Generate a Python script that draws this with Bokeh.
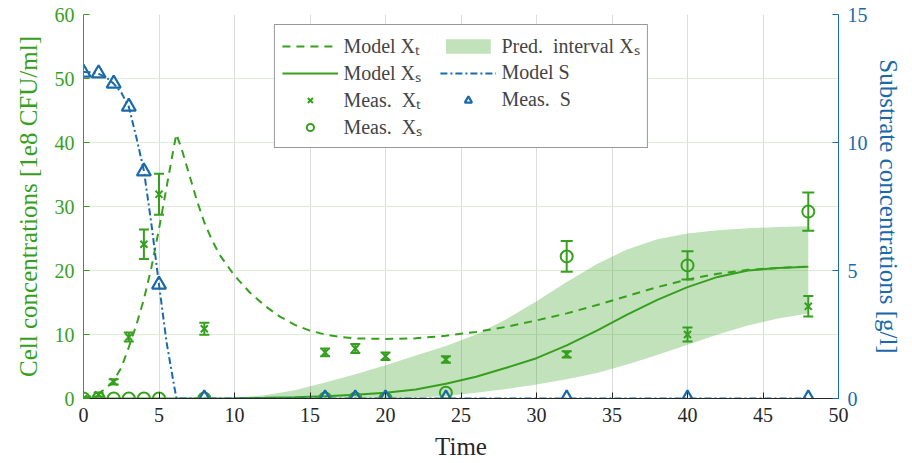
from bokeh.plotting import figure
from bokeh.models import (Range1d, LinearAxis, FixedTicker, Whisker, TeeHead,
                          ColumnDataSource, Legend, LegendItem)
from bokeh.embed import file_html
from bokeh.resources import INLINE

GREEN = "#36a01e"
BLUE = "#1a6aaa"
FONT = "Liberation Serif"

# ---------------- data ----------------
x_ticks = [0, 5, 10, 15, 20, 25, 30, 35, 40, 45, 50]
left_ticks = [0, 10, 20, 30, 40, 50, 60]
right_ticks = [0, 5, 10, 15]

meas_t = [0, 1, 2, 3, 4, 5, 8, 16, 18, 20, 24, 32, 40, 48]
xt_meas = [0.0, 0.6, 2.6, 9.6, 24.1, 31.9, 10.9, 7.2, 7.8, 6.6, 6.1, 6.9, 10.0, 14.4]
xt_err = [0.2, 0.3, 0.4, 0.7, 2.3, 3.2, 0.95, 0.6, 0.7, 0.6, 0.5, 0.5, 1.1, 1.6]
xs_meas = [0, 0, 0, 0, 0, 0, 0, 0, 0, 0, 0.9, 22.2, 20.8, 29.2]
xs_err = [0, 0, 0, 0, 0, 0, 0, 0, 0, 0, 0, 2.4, 2.2, 3.0]
s_meas = [12.73, 12.7, 12.3, 11.4, 8.87, 4.45, 0, 0, 0, 0, 0, 0, 0, 0]

model_xt_t = [0, 0.5, 1, 1.5, 2, 2.5, 3, 3.5, 4, 4.5, 5, 5.5, 6, 6.15, 6.5, 7, 7.5, 8,
              8.5, 9, 10, 11, 12, 13, 14, 15, 16, 17, 18, 20, 22, 24, 26, 28, 30,
              32, 34, 36, 38, 40, 42, 44, 46, 48]
model_xt = [0, 0.3, 0.8, 1.6, 2.8, 4.8, 8.0, 11.5, 15.5, 20.5, 26.5, 33.0, 39.5, 41.3,
            39.0, 35.0, 31.0, 27.5, 24.8, 22.5, 19.2, 16.6, 14.5, 12.8, 11.5, 10.6,
            10.0, 9.6, 9.4, 9.3, 9.4, 9.8, 10.4, 11.2, 12.2, 13.3, 14.6, 16.0, 17.4,
            18.6, 19.5, 20.1, 20.4, 20.6]

model_xs_t = [0, 5, 10, 12, 14, 16, 18, 20, 22, 24, 26, 28, 30, 32, 34, 36, 38, 40,
              42, 44, 46, 48]
model_xs = [0, 0, 0.05, 0.1, 0.2, 0.35, 0.6, 0.9, 1.4, 2.3, 3.4, 4.8, 6.3, 8.3, 10.6,
            13.1, 15.4, 17.4, 19.0, 20.0, 20.4, 20.6]

pi_t = [8, 10, 12, 14, 16, 18, 20, 22, 24, 26, 28, 30, 32, 34, 36, 38, 40, 42, 44, 46, 48]
pi_upper = [0, 0.1, 0.5, 1.3, 2.5, 3.8, 5.2, 6.7, 8.2, 10.0, 12.4, 15.2, 18.2, 21.0,
            23.3, 24.9, 25.8, 26.3, 26.6, 26.8, 26.9]
pi_lower = [0, 0, 0, 0, 0, 0, 0, 0.1, 0.4, 0.9, 1.5, 2.2, 3.0, 4.0, 5.3, 6.8, 8.4,
            10.0, 11.4, 12.5, 13.3]

model_s_t = [0, 0.5, 1, 1.5, 2, 2.5, 3, 3.5, 4, 4.5, 5, 5.5, 6, 6.16, 48]
model_s = [12.75, 12.74, 12.68, 12.55, 12.3, 11.95, 11.4, 10.2, 8.9, 6.8, 4.45, 2.2,
           0.5, 0, 0]

# ---------------- figure ----------------
p = figure(width=910, height=462, output_backend="svg", toolbar_location=None,
           x_range=Range1d(0, 50), y_range=Range1d(0, 60),
           min_border_left=83, min_border_right=72, min_border_top=14,
           min_border_bottom=63)
p.extra_y_ranges = {"s": Range1d(0, 15)}
p.outline_line_color = None
p.background_fill_color = "white"
p.border_fill_color = "white"

# grids
p.xgrid.ticker = FixedTicker(ticks=x_ticks)
p.ygrid.ticker = FixedTicker(ticks=left_ticks)
p.xgrid.grid_line_color = "#dcdcdc"
p.ygrid.grid_line_color = "#dceed5"

# pred interval
pi = p.varea(x=pi_t, y1=pi_lower, y2=pi_upper, fill_color=GREEN, fill_alpha=0.3)

# model lines
l_xt = p.line(model_xt_t, model_xt, line_color=GREEN, line_width=2, line_dash="8 6")
l_xs = p.line(model_xs_t, model_xs, line_color=GREEN, line_width=2)
l_s = p.line(model_s_t, model_s, line_color=BLUE, line_width=2, line_dash="7 3 2 3",
             y_range_name="s")

# error bars
src_xt = ColumnDataSource(dict(t=meas_t,
                               lo=[v - e for v, e in zip(xt_meas, xt_err)],
                               up=[v + e for v, e in zip(xt_meas, xt_err)]))
p.add_layout(Whisker(source=src_xt, base="t", lower="lo", upper="up",
                     line_color=GREEN, line_width=2,
                     upper_head=TeeHead(size=10, line_color=GREEN, line_width=2),
                     lower_head=TeeHead(size=10, line_color=GREEN, line_width=2)))
ix = [i for i, e in enumerate(xs_err) if e > 0]
src_xs = ColumnDataSource(dict(t=[meas_t[i] for i in ix],
                               lo=[xs_meas[i] - xs_err[i] for i in ix],
                               up=[xs_meas[i] + xs_err[i] for i in ix]))
p.add_layout(Whisker(source=src_xs, base="t", lower="lo", upper="up",
                     line_color=GREEN, line_width=2,
                     upper_head=TeeHead(size=12, line_color=GREEN, line_width=2),
                     lower_head=TeeHead(size=12, line_color=GREEN, line_width=2)))

m_xt = p.scatter(meas_t, xt_meas, marker="x", size=10, line_color=GREEN, line_width=2)
m_xs = p.scatter(meas_t, xs_meas, marker="circle", size=12, line_color=GREEN,
                 fill_color=None, line_width=2)
m_s = p.scatter(meas_t, s_meas, marker="triangle", size=14, line_color=BLUE,
                fill_color=None, line_width=2.2, y_range_name="s")

# axes
def style_axis(ax, color, ticks):
    ax.ticker = FixedTicker(ticks=ticks)
    ax.axis_line_color = color
    ax.major_tick_line_color = color
    ax.minor_tick_line_color = None
    ax.major_tick_in = 6
    ax.major_tick_out = 0
    ax.major_label_text_color = color
    ax.axis_label_text_color = color
    ax.major_label_text_font = FONT
    ax.axis_label_text_font = FONT
    ax.major_label_text_font_size = "20px"
    ax.axis_label_text_font_size = "25px"
    ax.axis_label_text_font_style = "normal"
    ax.major_label_standoff = 9

style_axis(p.xaxis[0], "#262626", x_ticks)
p.xaxis[0].axis_label = "Time"
p.xaxis[0].axis_label_standoff = 8
style_axis(p.yaxis[0], GREEN, left_ticks)
p.yaxis[0].axis_label = "Cell concentrations [1e8 CFU/ml]"
p.yaxis[0].axis_label_standoff = 10

ax_r = LinearAxis(y_range_name="s", axis_label="Substrate concentrations [g/l]")
style_axis(ax_r, BLUE, right_ticks)
ax_r.axis_label_standoff = 4
p.add_layout(ax_r, "right")

# legend
legend = Legend(items=[
    LegendItem(label="Model Xₜ", renderers=[l_xt]),
    LegendItem(label="Model Xₛ", renderers=[l_xs]),
    LegendItem(label="Meas.  Xₜ", renderers=[m_xt]),
    LegendItem(label="Meas.  Xₛ", renderers=[m_xs]),
    LegendItem(label="Pred.  interval Xₛ", renderers=[pi]),
    LegendItem(label="Model S", renderers=[l_s]),
    LegendItem(label="Meas.  S", renderers=[m_s]),
], location="top_center", nrows=4)
legend.margin = 10
legend.label_text_font = FONT
legend.label_text_font_size = "20px"
legend.glyph_width = 56
legend.glyph_height = 18
legend.label_height = 18
legend.label_width = 96
legend.spacing = -3
legend.padding = 7
legend.label_standoff = 6
legend.border_line_color = "#333333"
legend.border_line_width = 1
legend.background_fill_alpha = 1
p.add_layout(legend)

open("out.html", "w").write(file_html(p, INLINE))
